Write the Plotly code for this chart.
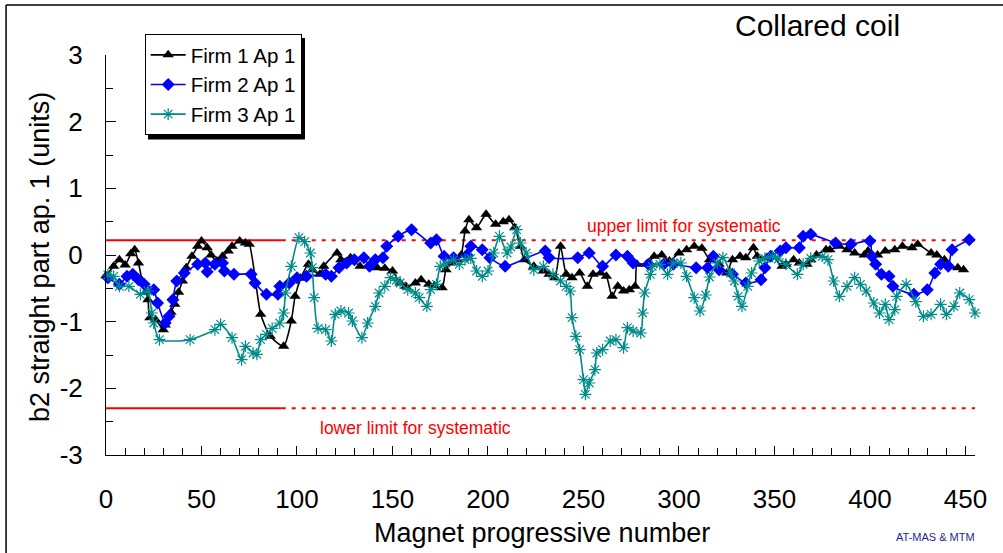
import plotly.graph_objects as go

# Firm 1, aperture 1
firm1_x = [0, 4, 7, 10, 13, 15, 17, 19, 21, 22, 23, 26, 30, 31, 34, 36, 38, 40, 42, 45,
           48, 50, 53, 55, 58, 61, 64, 66, 70, 73, 75, 81, 86, 93, 97, 99, 102, 106, 108,
           112, 114, 121, 123, 128, 133, 142, 146, 150, 154, 157, 162, 165, 169, 172, 176,
           178, 181, 184, 186, 188, 190, 194, 199, 204, 208, 211, 214, 217, 219, 224, 229,
           232, 235, 238, 241, 244, 248, 252, 255, 259, 262, 265, 268, 271, 274, 277, 278,
           283, 287, 291, 295, 300, 304, 308, 312, 316, 321, 325, 328, 332, 335, 339, 341,
           346, 349, 354, 356, 360, 363, 367, 369, 372, 377, 379, 384, 388, 392, 397, 399,
           404, 408, 413, 417, 422, 425, 432, 435, 439, 442, 446, 449]
firm1_y = [-0.31, -0.17, -0.07, -0.15, 0.02, 0.08, -0.12, -0.39, -0.55, -0.67, -0.94, -0.97,
           -1.12, -1.05, -0.86, -0.74, -0.56, -0.39, -0.19, -0.02, 0.13, 0.21, 0.11, 0.0,
           -0.09, -0.02, 0.06, 0.13, 0.21, 0.18, 0.16, -0.89, -1.22, -1.37, -0.99, -0.62,
           -0.35, -0.14, -0.22, -0.29, -0.17, 0.03, -0.07, -0.04, -0.17, -0.19, -0.2, -0.24,
           -0.42, -0.47, -0.42, -0.37, -0.44, -0.46, -0.49, -0.22, -0.12, -0.07, 0.0, 0.36,
           0.53, 0.41, 0.61, 0.46, 0.5, 0.53, 0.41, 0.13, -0.07, -0.17, -0.24, -0.29, -0.34,
           0.13, -0.29, -0.34, -0.27, -0.47, -0.29, -0.27, -0.32, -0.62, -0.47, -0.54, -0.52,
           -0.47, -0.14, -0.14, -0.02, 0.0, -0.09, 0.03, 0.08, 0.13, 0.1, -0.07, -0.14,
           -0.27, -0.07, -0.02, -0.04, 0.11, -0.02, -0.04, -0.02, -0.17, -0.14, -0.07, -0.12,
           -0.14, -0.07, 0.0, 0.08, 0.08, 0.13, 0.08, 0.03, 0.0, 0.06, 0.0, 0.06, 0.08,
           0.13, 0.11, 0.16, 0.03, 0.0, -0.07, -0.17, -0.19, -0.22]

# Firm 2, aperture 1
firm2_x = [1, 7, 11, 14, 17, 20, 25, 27, 31, 33, 35, 37, 41, 48, 52, 53, 57, 61, 62, 67,
           76, 78, 84, 90, 91, 96, 100, 105, 115, 118, 122, 126, 130, 135, 138, 141, 145,
           147, 153, 160, 170, 173, 177, 182, 189, 191, 197, 201, 209, 230, 232, 247, 253,
           260, 267, 273, 276, 284, 292, 297, 309, 315, 318, 321, 328, 335, 343, 345, 348,
           353, 356, 363, 365, 369, 382, 390, 400, 401, 403, 406, 410, 412, 423, 430, 434,
           437, 441, 443, 452]
firm2_y = [-0.34, -0.44, -0.32, -0.29, -0.37, -0.44, -0.52, -0.72, -1.02, -0.92, -0.67,
           -0.39, -0.27, -0.14, -0.12, -0.25, -0.14, -0.12, -0.24, -0.29, -0.29, -0.42,
           -0.59, -0.59, -0.47, -0.42, -0.34, -0.32, -0.29, -0.32, -0.19, -0.12, -0.07,
           -0.04, -0.17, -0.07, -0.04, 0.13, 0.28, 0.38, 0.18, 0.23, -0.02, -0.04, 0.0,
           0.13, 0.08, -0.04, -0.17, 0.06, -0.04, -0.04, 0.03, -0.17, 0.0, -0.02, -0.12,
           -0.14, -0.14, -0.14, -0.19, -0.19, -0.02, -0.22, -0.29, -0.42, -0.37, -0.19,
           -0.02, 0.06, 0.11, 0.11, 0.28, 0.31, 0.18, 0.16, 0.21, -0.02, -0.14, -0.29,
           -0.32, -0.47, -0.59, -0.52, -0.27, -0.14, -0.17, 0.08, 0.23]

# Firm 3, aperture 1
firm3_x = [1, 4, 7, 12, 18, 22, 24, 25, 28, 44, 57, 60, 66, 71, 73, 77, 79, 81, 84, 87,
           91, 93, 94, 97, 101, 104, 107, 108, 109, 111, 115, 118, 120, 123, 127, 129, 134,
           137, 141, 143, 146, 149, 152, 154, 158, 162, 164, 168, 170, 173, 175, 178, 182,
           185, 188, 191, 194, 197, 200, 203, 206, 210, 212, 215, 217, 220, 224, 229, 234,
           238, 241, 243, 244, 246, 248, 250, 251, 253, 256, 257, 260, 264, 267, 271, 273,
           276, 280, 281, 282, 285, 286, 290, 294, 297, 301, 304, 308, 311, 314, 316, 320,
           323, 327, 329, 331, 333, 336, 338, 342, 345, 349, 352, 356, 362, 365, 369, 375,
           378, 381, 384, 388, 392, 395, 398, 402, 405, 408, 410, 413, 414, 419, 424, 428,
           432, 437, 440, 444, 447, 452, 455]
firm3_y = [-0.3, -0.32, -0.47, -0.47, -0.59, -0.54, -0.87, -1.02, -1.27, -1.27, -1.12,
           -1.04, -1.24, -1.57, -1.37, -1.47, -1.49, -1.27, -1.19, -1.1, -1.02, -0.87,
           -0.57, -0.17, 0.26, 0.2, 0.03, -0.19, -0.64, -1.1, -1.12, -1.29, -0.89, -0.84,
           -0.87, -0.99, -1.24, -1.02, -0.77, -0.57, -0.47, -0.34, -0.38, -0.42, -0.52,
           -0.57, -0.64, -0.77, -0.52, -0.44, -0.17, -0.12, -0.07, -0.14, -0.07, -0.05,
           -0.24, -0.32, -0.24, 0.03, 0.28, 0.03, 0.12, 0.38, 0.18, 0.03, -0.22, -0.17,
           -0.29, -0.39, -0.47, -0.54, -0.94, -1.22, -1.42, -1.87, -2.09, -1.92, -1.72,
           -1.47, -1.42, -1.29, -1.27, -1.39, -1.09, -1.14, -1.17, -0.87, -0.57, -0.29,
           -0.17, -0.14, -0.29, -0.12, -0.12, -0.32, -0.64, -0.84, -0.6, -0.33, -0.12,
           -0.04, -0.27, -0.39, -0.62, -0.77, -0.47, -0.27, -0.09, -0.05, -0.02, -0.06,
           -0.14, -0.29, -0.14, -0.05, -0.02, -0.07, -0.39, -0.62, -0.47, -0.34, -0.44,
           -0.54, -0.72, -0.87, -0.74, -0.97, -0.82, -0.62, -0.44, -0.7, -0.92, -0.89,
           -0.74, -0.89, -0.77, -0.57, -0.67, -0.87]

# Systematic limits (solid over the first magnets, dotted afterwards)
upper_limit = 0.22
lower_limit = -2.3
limit_solid_x = [0, 92]
limit_dotted_x = [92, 455]

x_ticks = [0, 50, 100, 150, 200, 250, 300, 350, 400, 450]
y_ticks = [-3, -2, -1, 0, 1, 2, 3]
y_tick_text = ["-3", "-2", "-1", "0", "1", "2", "3"]

FONT = "Liberation Sans, Arial, sans-serif"
RED = "#ff0000"

fig = go.Figure()

for level in (upper_limit, lower_limit):
    fig.add_trace(go.Scatter(x=limit_solid_x, y=[level, level], mode="lines",
                             line=dict(color=RED, width=2), showlegend=False,
                             hoverinfo="skip"))
    fig.add_trace(go.Scatter(x=limit_dotted_x, y=[level, level], mode="lines",
                             line=dict(color=RED, width=2, dash="4px,6px"),
                             showlegend=False, hoverinfo="skip"))

series = [
    ("Firm 1 Ap 1", firm1_x, firm1_y, "#000000", "triangle-up", 10, 0),
    ("Firm 2 Ap 1", firm2_x, firm2_y, "#0000ff", "diamond", 10, 0),
    ("Firm 3 Ap 1", firm3_x, firm3_y, "#008b8b", "asterisk-open", 10, 1.2),
]
for name, xs, ys, color, symbol, size, mlw in series:
    fig.add_trace(go.Scatter(
        x=xs, y=ys, name=name, mode="lines+markers",
        line=dict(color=color, width=1.6, shape="spline", smoothing=0.6),
        marker=dict(symbol=symbol, size=size, color=color,
                    line=dict(color=color, width=mlw)),
        cliponaxis=False,
    ))

axis_common = dict(
    showline=True, linecolor="black", linewidth=1,
    showgrid=False, zeroline=False,
    ticks="inside", tickcolor="black", tickwidth=1,
    tickfont=dict(family=FONT, size=26, color="black"),
)

fig.update_xaxes(range=[0, 455], tickvals=x_ticks, ticklen=9,
                 minor=dict(dtick=10, tick0=0, ticks="inside", ticklen=7,
                            tickcolor="black"),
                 ticklabelstandoff=21, **axis_common)
fig.update_yaxes(range=[-3, 3], tickvals=y_ticks, ticktext=y_tick_text, ticklen=10,
                 minor=dict(dtick=0.5, tick0=0, ticks="inside", ticklen=7,
                            tickcolor="black"),
                 ticklabelstandoff=17, **axis_common)

annotations = [
    dict(text="Collared coil", x=0.819, y=1.075, xref="paper", yref="paper",
         xanchor="center", yanchor="middle", showarrow=False,
         font=dict(family=FONT, size=30, color="black")),
    dict(text="upper limit for systematic", x=251, y=0.43, xref="x", yref="y",
         xanchor="left", yanchor="middle", showarrow=False,
         font=dict(family=FONT, size=17.5, color=RED)),
    dict(text="lower limit for systematic", x=111, y=-2.59, xref="x", yref="y",
         xanchor="left", yanchor="middle", showarrow=False,
         font=dict(family=FONT, size=17.5, color=RED)),
    dict(text="Magnet progressive number", x=0.502, y=-0.195, xref="paper",
         yref="paper", xanchor="center", yanchor="middle", showarrow=False,
         font=dict(family=FONT, size=27, color="black")),
    dict(text="b2 straight part ap. 1 (units)", x=-0.076, y=0.495, xref="paper",
         yref="paper", xanchor="center", yanchor="middle", showarrow=False,
         textangle=-90, font=dict(family=FONT, size=27, color="black")),
    dict(text="AT-MAS &amp; MTM", x=0.954, y=-0.205, xref="paper", yref="paper",
         xanchor="center", yanchor="middle", showarrow=False,
         font=dict(family=FONT, size=11, color="#1f1f99")),
]

shapes = [
    # chart frame (top and left edges)
    dict(type="line", xref="paper", yref="paper", x0=-0.115, x1=1.04,
         y0=1.125, y1=1.125, line=dict(color="black", width=1.5)),
    dict(type="line", xref="paper", yref="paper", x0=-0.115, x1=-0.115,
         y0=1.125, y1=-0.25, line=dict(color="black", width=1.5)),
    # legend drop shadow
    dict(type="rect", xref="paper", yref="paper", x0=0.0483, x1=0.2290,
         y0=0.789, y1=1.0425, fillcolor="black", line=dict(width=0),
         layer="above"),
]

fig.update_layout(
    width=1003, height=553,
    margin=dict(l=106, r=28, t=55, b=98),
    paper_bgcolor="white", plot_bgcolor="white",
    font=dict(family=FONT, color="black"),
    legend=dict(x=0.0445, y=1.0525, xanchor="left", yanchor="top",
                bgcolor="white", bordercolor="black", borderwidth=1,
                itemwidth=35,
                font=dict(family=FONT, size=20.5, color="black")),
    annotations=annotations,
    shapes=shapes,
    showlegend=True,
)

fig.write_html("out.html")
